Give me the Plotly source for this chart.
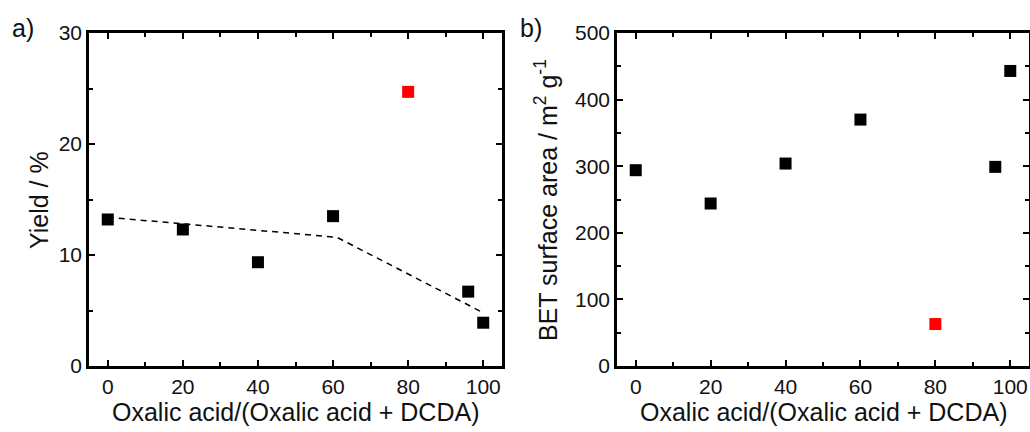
import plotly.graph_objects as go

# Panel a data: Yield / %
ratio_a = [0, 20, 40, 60, 96, 100]
yield_a = [13.2, 12.3, 9.35, 13.5, 6.7, 3.9]
ratio_a_red = [80]
yield_a_red = [24.7]
trend_x = [0, 61, 100]
trend_y = [13.4, 11.6, 4.8]

# Panel b data: BET surface area
ratio_b = [0, 20, 40, 60, 96, 100]
bet_b = [294, 244, 304, 370, 299, 443]
ratio_b_red = [80]
bet_b_red = [63]

FONT = "Liberation Sans, Arial, sans-serif"
BLACK = "#000000"
RED = "#ff0000"
MSIZE = 12

fig = go.Figure()

fig.add_trace(go.Scatter(x=trend_x, y=trend_y, mode="lines",
                         line=dict(color=BLACK, width=1.5, dash="6px,5px"),
                         xaxis="x", yaxis="y", showlegend=False))
fig.add_trace(go.Scatter(x=ratio_a, y=yield_a, mode="markers",
                         marker=dict(symbol="square", size=MSIZE, color=BLACK),
                         xaxis="x", yaxis="y", showlegend=False))
fig.add_trace(go.Scatter(x=ratio_a_red, y=yield_a_red, mode="markers",
                         marker=dict(symbol="square", size=MSIZE, color=RED),
                         xaxis="x", yaxis="y", showlegend=False))
fig.add_trace(go.Scatter(x=ratio_b, y=bet_b, mode="markers",
                         marker=dict(symbol="square", size=MSIZE, color=BLACK),
                         xaxis="x2", yaxis="y2", showlegend=False))
fig.add_trace(go.Scatter(x=ratio_b_red, y=bet_b_red, mode="markers",
                         marker=dict(symbol="square", size=MSIZE, color=RED),
                         xaxis="x2", yaxis="y2", showlegend=False))

def xax(domain, anchor):
    return dict(domain=domain, anchor=anchor, range=[-5, 105], automargin=False,
                tickmode="array", tickvals=[0, 20, 40, 60, 80, 100],
                ticks="inside", ticklen=6, tickwidth=1.5, tickcolor=BLACK,
                minor=dict(ticks="inside", tickvals=[10, 30, 50, 70, 90],
                           ticklen=4, tickwidth=1.5, tickcolor=BLACK),
                showline=True, linewidth=2.5, linecolor=BLACK, mirror="ticks",
                showgrid=False, zeroline=False,
                tickfont=dict(family=FONT, size=21, color="#111"))

def yax(domain, anchor, rng, vals, minors):
    return dict(domain=domain, anchor=anchor, range=rng, automargin=False,
                tickmode="array", tickvals=vals,
                ticks="inside", ticklen=6, tickwidth=1.5, tickcolor=BLACK,
                minor=dict(ticks="inside", tickvals=minors,
                           ticklen=4, tickwidth=1.5, tickcolor=BLACK),
                showline=True, linewidth=2.5, linecolor=BLACK, mirror="ticks",
                showgrid=False, zeroline=False,
                tickfont=dict(family=FONT, size=21, color="#111"))

ydom = [1 - 366 / 432, 1 - 33 / 432]

def ann(text, px, py, size, angle=0):
    return dict(text=text, x=px / 1030, y=1 - py / 432, xref="paper", yref="paper",
                xanchor="center", yanchor="middle", showarrow=False,
                textangle=angle, font=dict(family=FONT, size=size, color="#111"))

fig.update_layout(
    width=1030, height=432, autosize=False,
    margin=dict(l=0, r=0, t=0, b=0, pad=0, autoexpand=False),
    paper_bgcolor="white", plot_bgcolor="white",
    xaxis=xax([89 / 1030, 502 / 1030], "y"),
    yaxis=yax(ydom, "x", [0, 30], [0, 10, 20, 30], [5, 15, 25]),
    xaxis2=xax([617 / 1030, 1029 / 1030], "y2"),
    yaxis2=yax(ydom, "x2", [0, 500], [0, 100, 200, 300, 400, 500],
               [50, 150, 250, 350, 450]),
    annotations=[
        ann("a)", 23, 28, 25),
        ann("b)", 531, 28, 25),
        ann("Oxalic acid/(Oxalic acid + DCDA)", (89 + 502) / 2, 412, 25),
        ann("Oxalic acid/(Oxalic acid + DCDA)", (617 + 1029) / 2, 412, 25),
        ann("Yield / %", 39, 200, 25, -90),
        ann("BET surface area / m<sup>2</sup> g<sup>-1</sup>", 546, 200, 25, -90),
    ],
)

fig.write_html("out.html")
